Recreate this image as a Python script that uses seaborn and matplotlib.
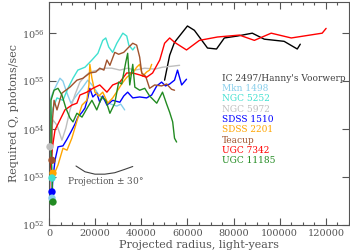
import numpy as np
import pandas as pd
import matplotlib
matplotlib.use("Agg")
import matplotlib.pyplot as plt
import matplotlib.ticker as mticker
import seaborn as sns

# ---------------- data (x: light-years, q: log10 photons/sec) ----------------
names = ["IC 2497/Hanny's Voorwerp", "Mkn 1498", "NGC 5252", "NGC 5972",
         "SDSS 1510", "SDSS 2201", "Teacup", "UGC 7342", "UGC 11185"]
colors = ["#000000", "#87CEEB", "#40E0D0", "#BEBEBE", "#0000FF",
          "#FFA500", "#A0522D", "#FF0000", "#228B22"]
label_colors = ["#404040", "#87CEEB", "#40E0D0", "#BEBEBE", "#0000FF",
                "#FFA500", "#A0522D", "#FF0000", "#228B22"]

ic2497_x = [50100, 52300, 54400, 60000, 63000, 68700, 72600, 76000, 81600,
            88100, 93300, 101900, 107600, 108900]
ic2497_q = [55.02, 55.54, 55.81, 56.15, 56.06, 55.69, 55.67, 55.90, 55.94,
            56.00, 55.875, 55.83, 55.67, 55.77]

mkn1498_x = [1300, 860, 430, 1730, 3460, 4750, 6050, 7800, 9500, 11700, 14300,
             16800, 19000, 21600, 24200, 26800, 29400, 31100, 32800]
mkn1498_q = [52.56, 53.56, 54.60, 54.77, 54.94, 55.06, 55.00, 54.75, 54.54,
             54.69, 54.85, 55.02, 54.90, 54.71, 54.60, 54.52, 54.48, 54.52, 54.40]

ngc5252_x = [1300, 430, 1730, 3460, 6050, 8200, 10400, 12500, 15600, 18600,
             21200, 23300, 24600, 25900, 27600, 29400, 32000, 33700, 34600,
             36300, 37200]
ngc5252_q = [52.98, 54.08, 54.44, 54.65, 54.60, 54.85, 55.06, 55.23, 55.29,
             55.44, 55.58, 55.85, 55.90, 55.71, 55.60, 55.79, 56.00, 55.94,
             55.75, 55.65, 55.71]

ngc5972_x = [430, 1730, 3460, 5600, 7300, 9100, 11200, 13400, 15600, 17700,
             21200, 24200, 27200, 30700, 34100, 37200, 41500, 45800, 49200,
             53100, 56600]
ngc5972_q = [53.63, 54.19, 54.08, 53.77, 54.02, 54.40, 54.71, 54.98, 55.10,
             55.19, 55.23, 55.27, 55.27, 55.23, 55.27, 55.23, 55.27, 55.25,
             55.29, 55.31, 55.33]

sdss1510_x = [1300, 1730, 2600, 3900, 6050, 7800, 9500, 11200, 12500, 14300,
              15600, 16800, 17700, 19000, 20700, 22000, 23300, 25100, 27600,
              30700, 32400, 34100, 36300, 39300, 42300, 44500, 46700, 48800,
              50500, 52300, 54400, 55700, 57500, 59600]
sdss1510_q = [52.69, 52.98, 53.35, 53.63, 53.65, 53.79, 53.94, 54.10, 54.25,
              54.35, 54.44, 54.65, 54.85, 54.67, 54.75, 54.56, 54.69, 54.50,
              54.60, 54.56, 54.69, 54.77, 54.65, 54.67, 54.65, 54.71, 54.90,
              54.98, 54.90, 54.94, 55.02, 55.23, 54.92, 55.04]

sdss2201_x = [1730, 2600, 3900, 6050, 7800, 9900, 11200, 12500, 14300, 16400,
              17300, 17700, 18600, 19900, 21600, 23300, 25500, 27600, 29800,
              31500, 33700, 36300, 38000, 39300, 40600, 42300, 43600, 44500]
sdss2201_q = [53.08, 53.10, 53.25, 53.60, 53.56, 53.81, 54.02, 54.23, 54.50,
              54.60, 54.92, 55.35, 55.06, 54.77, 54.69, 54.77, 54.54, 54.65,
              54.81, 54.94, 55.08, 55.17, 55.29, 55.35, 55.10, 55.19, 55.23,
              55.35]

teacup_x = [1300, 1300, 2200, 3460, 5600, 9100, 12100, 14700, 17700, 20300,
            22000, 23800, 25100, 26400, 28500, 30200, 32400, 34600, 36300,
            38000, 39300, 40200, 41900, 43600, 45800, 48800, 51000, 53100, 54400]
teacup_q = [53.35, 54.08, 54.60, 54.40, 54.75, 54.875, 55.02, 55.06, 55.17,
            55.19, 55.27, 55.23, 55.44, 55.33, 55.60, 55.56, 55.60, 55.71,
            55.79, 55.75, 55.50, 55.17, 55.10, 54.85, 54.92, 54.90, 54.94,
            54.83, 54.81]

ugc7342_x = [0, 430, 1300, 2600, 4750, 6900, 9900, 12100, 13400, 16400, 19000,
             22000, 25100, 27600, 30700, 33700, 36300, 39300, 42300, 44900,
             48000, 50100, 52300, 54400, 59600, 65200, 73000, 82500, 89000,
             96300, 105000, 118400, 120100]
ugc7342_q = [52.00, 53.15, 53.56, 53.98, 54.19, 54.40, 54.50, 54.54, 54.71,
             54.77, 54.85, 54.92, 54.77, 54.92, 54.98, 55.17, 55.17, 55.13,
             55.08, 55.17, 55.44, 55.79, 55.90, 55.81, 55.65, 55.85, 55.92,
             55.96, 55.85, 56.00, 55.90, 56.00, 56.10]

ugc11185_x = [1730, 860, 860, 2200, 3900, 5600, 7300, 9100, 10400, 12100,
              14300, 16800, 18600, 20700, 22900, 24600, 26400, 28500, 30200,
              31500, 33300, 34100, 35000, 36300, 37200, 39300, 41500, 43600,
              46700, 49200, 51000, 52300, 53600, 54400, 55300]
ugc11185_q = [52.48, 53.56, 54.60, 54.81, 54.85, 54.71, 54.44, 54.23, 54.15,
              54.33, 54.25, 54.46, 54.60, 54.40, 54.67, 54.60, 54.33, 54.54,
              54.98, 54.94, 55.40, 55.58, 54.92, 55.35, 54.875, 54.81, 54.85,
              54.69, 54.54, 54.77, 54.52, 54.35, 54.15, 53.81, 53.73]

# starting points marked with filled circles
dot_names = ["NGC 5972", "Teacup", "SDSS 2201", "NGC 5252", "SDSS 1510",
             "Mkn 1498", "UGC 11185"]
dot_x = [430, 1300, 1730, 1300, 1300, 1300, 1730]
dot_q = [53.63, 53.35, 53.08, 52.98, 52.69, 52.56, 52.48]

# "Projection +/- 30 deg" arc annotation
arc_x = [11700, 15600, 19900, 24200, 28500, 32800, 36300]
arc_q = [53.23, 53.11, 53.06, 53.06, 53.09, 53.16, 53.22]

x_ticks = [0, 20000, 40000, 60000, 80000, 100000, 120000]

# ---------------- build table ----------------
series_x = [ic2497_x, mkn1498_x, ngc5252_x, ngc5972_x, sdss1510_x,
            sdss2201_x, teacup_x, ugc7342_x, ugc11185_x]
series_q = [ic2497_q, mkn1498_q, ngc5252_q, ngc5972_q, sdss1510_q,
            sdss2201_q, teacup_q, ugc7342_q, ugc11185_q]
rows = []
for n, xs, qs in zip(names, series_x, series_q):
    for i, (x, q) in enumerate(zip(xs, qs)):
        rows.append({"name": n, "order": i, "x": x, "Q": 10.0 ** q})
df = pd.DataFrame(rows)
dots = pd.DataFrame({"name": dot_names, "x": dot_x,
                     "Q": [10.0 ** q for q in dot_q]})
palette = dict(zip(names, colors))

# ---------------- plot ----------------
sns.set_style("ticks")
plt.rcParams["font.family"] = ["DejaVu Serif"]
plt.rcParams["mathtext.fontset"] = "dejavuserif"

fig = plt.figure(figsize=(3.5, 2.5), dpi=100)
ax = fig.add_axes([0.14, 0.10, 0.857, 0.892])

sns.lineplot(data=df, x="x", y="Q", hue="name", units="name", estimator=None,
             sort=False, palette=palette, linewidth=1.0, legend=False, ax=ax)
sns.scatterplot(data=dots, x="x", y="Q", hue="name", palette=palette,
                s=28, linewidth=0, legend=False, ax=ax, zorder=5,
                clip_on=False)
ax.plot(arc_x, [10.0 ** q for q in arc_q], color="#404040", lw=0.8)

ax.set_yscale("log")
ax.set_xlim(0, 130000)
ax.set_ylim(1e52, 10 ** 56.65)

gray = "#555555"
ax.xaxis.set_major_locator(mticker.FixedLocator(x_ticks))
ax.xaxis.set_minor_locator(mticker.MultipleLocator(5000))
ax.yaxis.set_major_locator(mticker.LogLocator(base=10, numticks=10))
ax.yaxis.set_minor_locator(mticker.NullLocator())
ax.yaxis.set_major_formatter(mticker.FuncFormatter(
    lambda v, p: r"$10^{%d}$" % int(round(np.log10(v)))))
ax.xaxis.set_major_formatter(mticker.FuncFormatter(lambda v, p: "%d" % v))

ax.tick_params(which="both", direction="in", top=True, right=True,
               colors=gray, labelsize=7, width=0.8)
ax.tick_params(which="major", length=5, pad=3)
ax.tick_params(which="minor", length=2.5)
for s in ax.spines.values():
    s.set_color(gray)
    s.set_linewidth(0.8)

ax.set_xlabel("Projected radius, light-years", fontsize=8, color=gray,
              labelpad=1)
ax.set_ylabel("Required Q, photons/sec", fontsize=8, color=gray, labelpad=2)

# legend as coloured text
for i, (n, c) in enumerate(zip(names, label_colors)):
    ax.text(0.577, 0.658 - i * 0.0462, n, transform=ax.transAxes,
            color=c, fontsize=6.5, va="center", ha="left")

ax.text(7800, 10 ** 52.91, "Projection $\\pm$ 30°", fontsize=6.5,
        color=gray, va="center", ha="left")

fig.savefig("out.png", dpi=100)
